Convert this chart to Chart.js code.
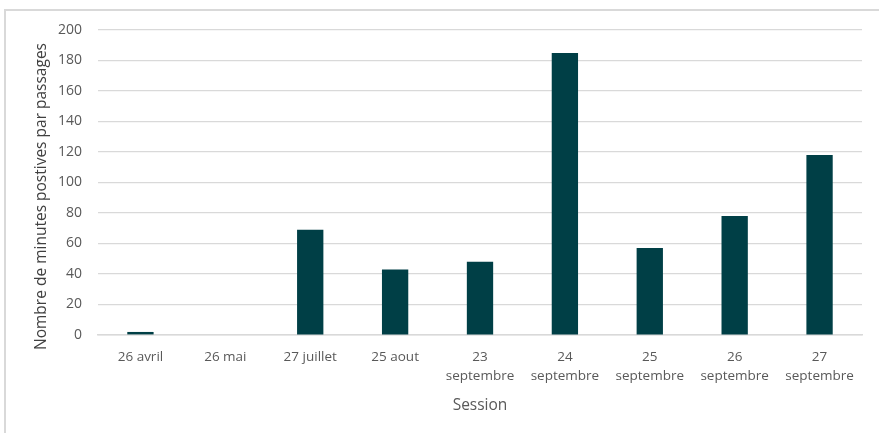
<!DOCTYPE html>
<html>
<head>
<meta charset="utf-8">
<script src="https://cdn.jsdelivr.net/npm/chart.js@4/dist/chart.umd.min.js"></script>
<style>
  html, body { margin: 0; padding: 0; background: #ffffff; }
  #wrap { position: relative; width: 879px; height: 433px; overflow: hidden; }
  #frame { position: absolute; left: 4px; top: 9px; width: 880px; height: 430px;
           border-top: 2px solid #d9d9d9; border-left: 2px solid #d9d9d9; box-sizing: border-box; }
  #c { position: absolute; left: 0; top: 0; }
</style>
</head>
<body>
<div id="wrap">
  <div id="frame"></div>
  <canvas id="c" width="879" height="433"></canvas>
</div>
<script>
// Sessions d'enregistrement (étiquettes sur deux lignes pour septembre)
const sessions = [
  '26 avril', '26 mai', '27 juillet', '25 aout',
  ['23', 'septembre'], ['24', 'septembre'], ['25', 'septembre'],
  ['26', 'septembre'], ['27', 'septembre']
];
// Minutes positives par passage
const minutesPositives = [2, 0, 69, 43, 48, 185, 57, 78, 118];
const yTicks = [0, 20, 40, 60, 80, 100, 120, 140, 160, 180, 200];
const yTitle = 'Nombre de minutes postives par passages';

const fontFamily = "'Open Sans', 'Noto Sans', sans-serif";
const textGrey = '#595959';

// Titre vertical de l'axe Y, centré un peu plus bas que la zone de tracé
const yTitlePlugin = {
  id: 'yTitle',
  afterDraw(chart) {
    const ctx = chart.ctx;
    const area = chart.chartArea;
    ctx.save();
    ctx.translate(42, (area.top + area.bottom) / 2 + 14);
    ctx.rotate(-Math.PI / 2);
    ctx.font = '15.5px ' + fontFamily;
    ctx.fillStyle = '#404040';
    ctx.textAlign = 'center';
    ctx.textBaseline = 'middle';
    ctx.fillText(yTitle, 0, 0);
    ctx.restore();
  }
};

new Chart(document.getElementById('c'), {
  type: 'bar',
  data: {
    labels: sessions,
    datasets: [{
      data: minutesPositives,
      backgroundColor: '#003f46',
      borderColor: '#003f46',
      borderWidth: 0,
      barPercentage: 0.31,
      categoryPercentage: 1.0
    }]
  },
  options: {
    responsive: false,
    animation: false,
    layout: { padding: { left: 29, right: 17, top: 30, bottom: 14 } },
    plugins: { legend: { display: false }, tooltip: { enabled: false } },
    scales: {
      x: {
        grid: { display: false, drawTicks: false },
        border: { display: true, color: '#d9d9d9', width: 1.5 },
        ticks: {
          color: textGrey, padding: 12, maxRotation: 0, autoSkip: false,
          font: { family: fontFamily, size: 13.5, lineHeight: 1.45 }
        },
        title: {
          display: true, text: 'Session', color: textGrey,
          font: { family: fontFamily, size: 15.5 }, padding: 4
        },
        afterFit: (s) => { s.height = 84; }
      },
      y: {
        min: 0, max: 200,
        afterBuildTicks: (s) => { s.ticks = yTicks.map(v => ({ value: v })); },
        grid: { color: '#d9d9d9', lineWidth: 1.2, drawTicks: false },
        border: { display: false },
        ticks: {
          color: textGrey, padding: 16,
          font: { family: fontFamily, size: 14 }
        },
        title: { display: false },
        afterFit: (s) => { s.width = 69; }
      }
    }
  },
  plugins: [yTitlePlugin]
});
</script>
</body>
</html>
